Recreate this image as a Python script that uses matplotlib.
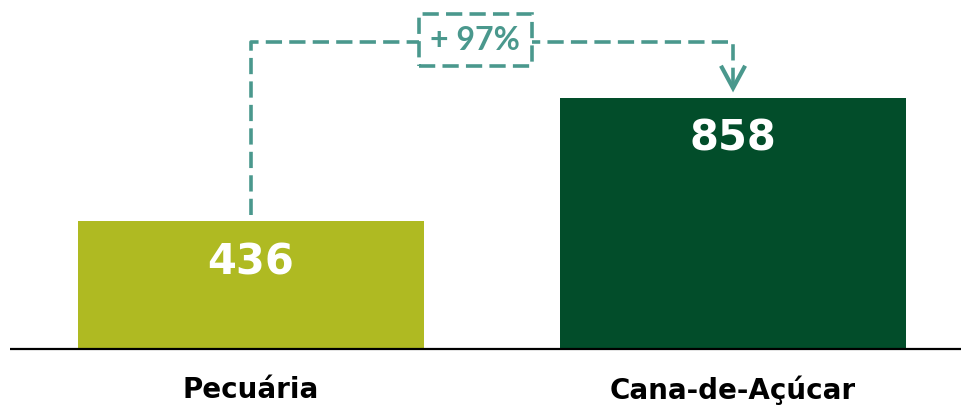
import matplotlib.pyplot as plt

categories = ['Pecuária', 'Cana-de-Açúcar']
values = [436, 858]
colors = ['#AFBA22', '#024D2A']
change_label = '+ 97%'

teal = '#4A988D'

fig = plt.figure(figsize=(9.61, 4.05), dpi=100)
ax = fig.add_axes([0, 0, 1, 1])

x = list(range(len(categories)))
ax.bar(x, values, width=0.718, color=colors, zorder=2)

ax.set_xlim(-0.521, 1.473)
ax.set_ylim(-191.4, 1193)
ax.axis('off')

# baseline
ax.plot([-0.5, 1.473], [0, 0], color='black', lw=1.6, zorder=3, solid_capstyle='butt')

for xi, v in zip(x, values):
    ax.text(xi, v - 140, str(v), ha='center', va='center', color='white',
            fontsize=30, fontweight='bold', family='DejaVu Sans')

for xi, c in zip(x, categories):
    ax.text(xi, -140, c, ha='center', va='center', color='black',
            fontsize=20, fontweight='bold', family='DejaVu Sans')

# bracket with growth label
top = 1050
tip = values[1] + 34
ax.plot([x[0], x[0], x[1], x[1]], [values[0] + 22, top, top, tip + 10],
        color=teal, lw=2.6, ls=(0, (4.5, 2)), zorder=1)
# open arrow head
ax.plot([x[1] - 0.023, x[1], x[1] + 0.023], [tip + 70, tip, tip + 70],
        color=teal, lw=3, solid_joinstyle='miter', zorder=1)
ax.text(0.465, top + 5, change_label, ha='center', va='center', color=teal,
        fontsize=23, fontweight='bold', family='Lato',
        bbox=dict(boxstyle='square,pad=0.36', fc='white', ec=teal, lw=2.6,
                  ls=(0, (4.5, 2))))

fig.savefig('out.png', dpi=100)
